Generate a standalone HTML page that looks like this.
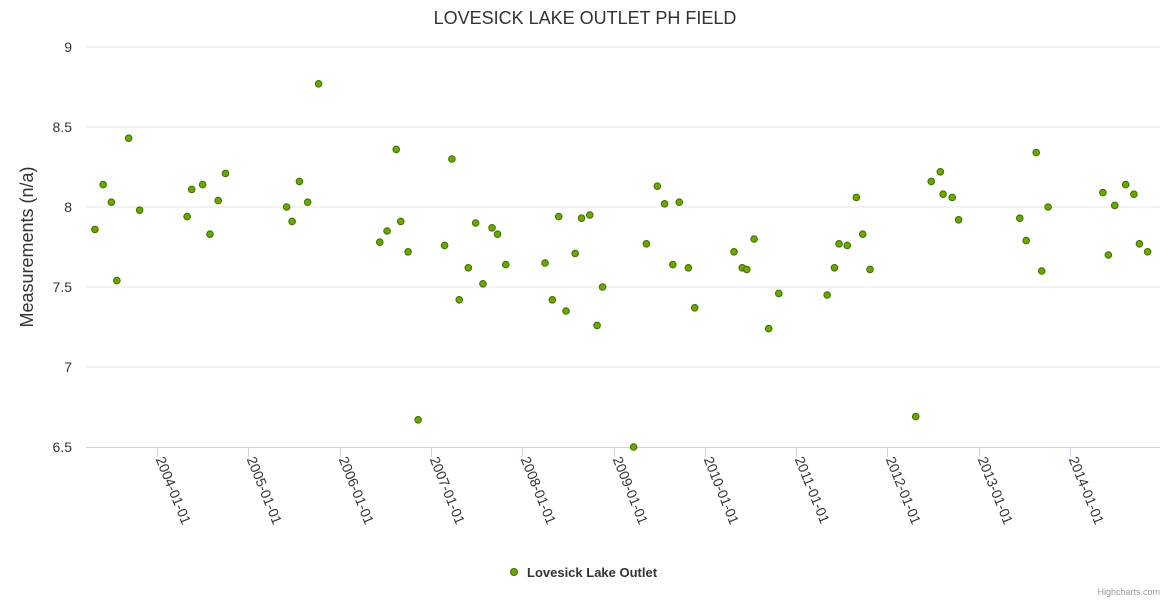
<!DOCTYPE html>
<html><head><meta charset="utf-8">
<style>
body{margin:0;background:#fff;font-family:"Liberation Sans","DejaVu Sans",sans-serif;}
svg{display:block}
</style></head>
<body>
<svg id="chart" width="1170" height="600">
<text x="585" y="24" text-anchor="middle" font-size="18" fill="#333">LOVESICK LAKE OUTLET PH FIELD</text>
<text transform="translate(33,247) rotate(-90)" text-anchor="middle" font-size="18" fill="#333">Measurements (n/a)</text>
<g id="grid"></g><g id="xaxis"></g><g id="points"></g>
<g>
<circle cx="514" cy="572" r="3.5" fill="#6aa800" stroke="#3f6e00" stroke-width="1"/>
<text x="527" y="577" font-size="13" font-weight="bold" fill="#333">Lovesick Lake Outlet</text>
</g>
<text x="1160" y="595" text-anchor="end" font-size="9" fill="#999">Highcharts.com</text>
</svg>
<script>
const yTicks=[6.5,7,7.5,8,8.5,9];
const xTickYears=[2004,2005,2006,2007,2008,2009,2010,2011,2012,2013,2014];
const dates=[2003.32,2003.41,2003.50,2003.56,2003.69,2003.81,2004.33,2004.38,2004.50,2004.58,2004.67,2004.75,2005.42,2005.48,2005.56,2005.65,2005.77,2006.44,2006.52,2006.62,2006.67,2006.75,2006.86,2007.15,2007.23,2007.31,2007.41,2007.49,2007.57,2007.67,2007.73,2007.82,2008.25,2008.33,2008.40,2008.48,2008.58,2008.65,2008.74,2008.82,2008.88,2009.22,2009.36,2009.48,2009.56,2009.65,2009.72,2009.82,2009.89,2010.32,2010.41,2010.46,2010.54,2010.70,2010.81,2011.34,2011.42,2011.47,2011.56,2011.66,2011.73,2011.81,2012.31,2012.48,2012.58,2012.61,2012.71,2012.78,2013.45,2013.52,2013.63,2013.69,2013.76,2014.36,2014.42,2014.49,2014.61,2014.70,2014.76,2014.85];
const values=[7.86,8.14,8.03,7.54,8.43,7.98,7.94,8.11,8.14,7.83,8.04,8.21,8.00,7.91,8.16,8.03,8.77,7.78,7.85,8.36,7.91,7.72,6.67,7.76,8.30,7.42,7.62,7.90,7.52,7.87,7.83,7.64,7.65,7.42,7.94,7.35,7.71,7.93,7.95,7.26,7.50,6.50,7.77,8.13,8.02,7.64,8.03,7.62,7.37,7.72,7.62,7.61,7.80,7.24,7.46,7.45,7.62,7.77,7.76,8.06,7.83,7.61,6.69,8.16,8.22,8.08,8.06,7.92,7.93,7.79,8.34,7.60,8.00,8.09,7.70,8.01,8.14,8.08,7.77,7.72];
const NS='http://www.w3.org/2000/svg';
const L=86,R=1160;
function yS(v){return 447-(v-6.5)*160;}
function xS(t){return 157+(t-2004)*91.3;}
function mk(tag,attrs,parent){const e=document.createElementNS(NS,tag);for(const k in attrs)e.setAttribute(k,attrs[k]);parent.appendChild(e);return e;}
const grid=document.getElementById('grid');
yTicks.forEach(v=>{
  if(v>6.5){const g=mk('line',{x1:L,x2:R,y1:yS(v),y2:yS(v),stroke:'#e6e6e6'},grid);
  
  }
  const t=mk('text',{x:72,y:yS(v)+5,'text-anchor':'end','font-size':14,fill:'#333'},grid);
  t.textContent=String(v);
  
  
});
const xa=document.getElementById('xaxis');
const al=mk('line',{x1:L,x2:R,y1:447.5,y2:447.5,stroke:'#ccd6eb'},xa);


xTickYears.forEach(y=>{
  const x=Math.round(xS(y))+0.5;
  const tk=mk('line',{x1:x,x2:x,y1:447,y2:457,stroke:'#ccd6eb'},xa);
  
  
  const t=mk('text',{transform:`translate(${x-2},459) rotate(68)`,'font-size':14,fill:'#333'},xa);
  t.textContent=y+'-01-01';
  
  
});
const pg=document.getElementById('points');
dates.forEach((d,i)=>{
  const c=mk('circle',{cx:xS(d),cy:yS(values[i]),r:3.3,fill:'#6aa800',stroke:'#3f6e00','stroke-width':1},pg);
  
  
});
</script>
</body></html>
